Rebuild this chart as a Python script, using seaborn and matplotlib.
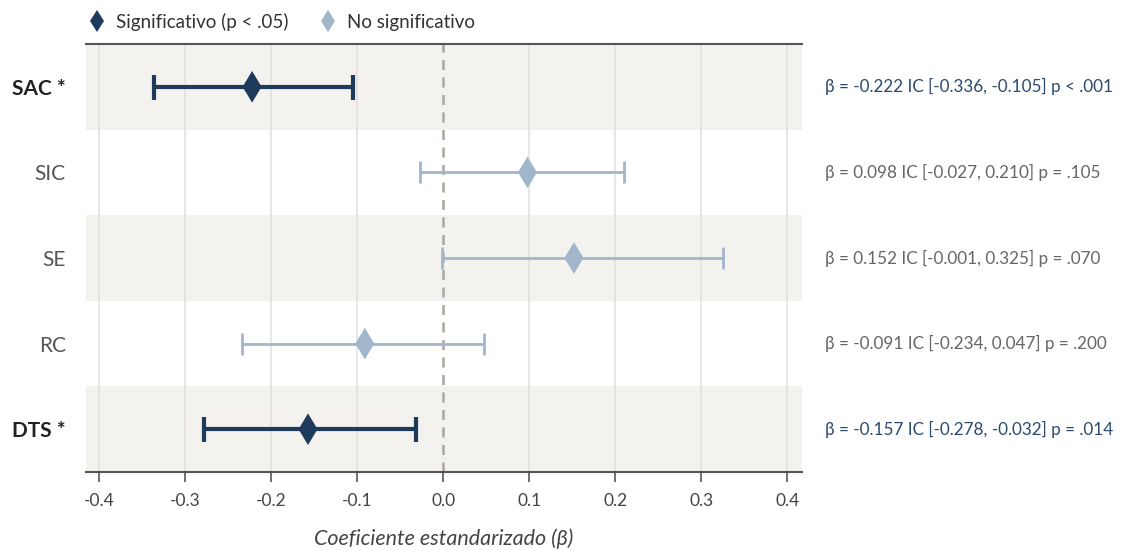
import matplotlib
matplotlib.use("Agg")
import matplotlib.pyplot as plt
import matplotlib.transforms as mtransforms
import seaborn as sns
import pandas as pd
import numpy as np

# ---- data ----
predictors = ["SAC *", "SIC", "SE", "RC", "DTS *"]
beta = [-0.222, 0.098, 0.152, -0.091, -0.157]
ci_low = [-0.336, -0.027, -0.001, -0.234, -0.278]
ci_high = [-0.105, 0.210, 0.325, 0.047, -0.032]
p_text = ["p < .001", "p = .105", "p = .070", "p = .200", "p = .014"]
significant = [True, False, False, False, True]
sig_labels = ["Significativo (p < .05)", "No significativo"]
xticks = [-0.4, -0.3, -0.2, -0.1, 0.0, 0.1, 0.2, 0.3, 0.4]
xlabel = "Coeficiente estandarizado (β)"

DARK = "#1f3b5c"
LIGHT = "#a2b6cb"
TXT_DARK = "#2b4a6d"
TXT_GRAY = "#666666"
BAND = "#f3f2ef"
GRID = "#e3e1de"
SPINE = "#555555"

df = pd.DataFrame({
    "pred": predictors,
    "beta": beta,
    "lo": ci_low,
    "hi": ci_high,
    "sig": [sig_labels[0] if s else sig_labels[1] for s in significant],
})
df["pos"] = np.arange(len(df))

sns.set_theme(style="white")
plt.rcParams["font.family"] = ["Lato", "DejaVu Sans"]

fig = plt.figure(figsize=(11.28, 5.51), dpi=100)
ax = fig.add_axes([86 / 1128, 1 - 472 / 551, (802 - 86) / 1128, (472 - 44) / 551])

ax.set_xlim(-0.415, 0.417)
ax.set_ylim(len(df) - 0.5, -0.5)

# alternating bands
for i in range(len(df)):
    if i % 2 == 0:
        ax.axhspan(i - 0.5, i + 0.5, color=BAND, zorder=0, lw=0)

# grid
for xt in xticks:
    if xt != 0:
        ax.axvline(xt, color=GRID, lw=1.2, zorder=1)
ax.axvline(0, color="#aaa69f", lw=1.8, ls=(0, (4, 3)), zorder=2)

# error bars
for _, r in df.iterrows():
    sig = r["sig"] == sig_labels[0]
    ax.errorbar(r["beta"], r["pos"], xerr=[[r["beta"] - r["lo"]], [r["hi"] - r["beta"]]],
                fmt="none", ecolor=DARK if sig else LIGHT,
                elinewidth=3 if sig else 2, capsize=9 if sig else 8,
                capthick=3 if sig else 2, zorder=3)

sns.scatterplot(data=df, x="beta", y="pos", hue="sig", hue_order=sig_labels,
                palette={sig_labels[0]: DARK, sig_labels[1]: LIGHT},
                marker="d", s=260, edgecolor="none", linewidth=0, ax=ax, zorder=4)

# annotations
trans = mtransforms.blended_transform_factory(fig.transFigure, ax.transData)
for r, pt in zip(df.itertuples(), p_text):
    sig = r.sig == sig_labels[0]
    txt = f"β = {r.beta:.3f} IC [{r.lo:.3f}, {r.hi:.3f}] {pt}"
    ax.text(825 / 1128, r.pos, txt, transform=trans, ha="left", va="center",
            fontsize=12.3, color=TXT_DARK if sig else TXT_GRAY, clip_on=False)

# axes styling
ax.set_yticks(df["pos"])
ax.set_yticklabels(df["pred"])
for lab, s in zip(ax.get_yticklabels(), significant):
    if s:
        lab.set_fontweight("bold")
        lab.set_color("#222222")
    else:
        lab.set_color("#555555")
    lab.set_fontsize(15)
ax.tick_params(axis="y", length=0, pad=14.5)

ax.set_xticks(xticks)
ax.set_xticklabels([f"{v:.1f}" for v in xticks])
ax.tick_params(axis="x", direction="out", length=7, width=1.2, color=SPINE,
               labelsize=12.5, labelcolor="#444444", pad=8, bottom=True)
ax.set_xlabel(xlabel, fontsize=15.5, fontstyle="italic", color="#444444", labelpad=14)
ax.set_ylabel("")

for side in ["left", "right"]:
    ax.spines[side].set_visible(False)
for side in ["top", "bottom"]:
    ax.spines[side].set_color(SPINE)
    ax.spines[side].set_linewidth(1.5)

sns.move_legend(ax, "lower left", bbox_to_anchor=(-0.018, 1.0), ncol=2, frameon=False,
                title=None, fontsize=13.5, handletextpad=0.4, columnspacing=1.5,
                borderaxespad=0.3, markerscale=0.72, handlelength=1.2)
for t in ax.get_legend().get_texts():
    t.set_color("#333333")

fig.savefig("out.png", dpi=100)
